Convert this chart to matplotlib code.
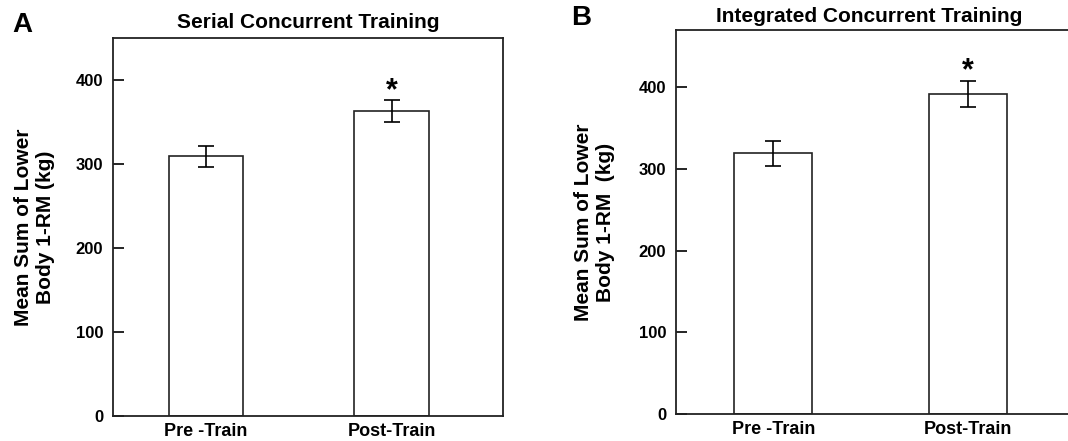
import matplotlib
matplotlib.use("Agg")
import matplotlib.pyplot as plt

plt.rcParams['font.family'] = ['Liberation Sans', 'DejaVu Sans']
plt.rcParams['font.weight'] = 'bold'

# data
groups = ['Pre -Train', 'Post-Train']
serial_mean = [309, 363]
serial_err = [12, 13]
integrated_mean = [319, 392]
integrated_err = [15, 16]
sig = [False, True]

fig = plt.figure(figsize=(10.68, 4.41), dpi=100)

# axes placed in pixel terms (figure is 1068 x 441)
ax_a = fig.add_axes([113 / 1068, 25 / 441, 390 / 1068, 378 / 441])
ax_b = fig.add_axes([676 / 1068, 27 / 441, 409 / 1068, 384 / 441])


def draw_panel(ax, means, errs, ymax, title, title_x, title_pad, ylabel):
    x = list(range(len(groups)))
    ax.bar(x, means, width=0.4, color='white', edgecolor='#222222', linewidth=1.2)
    ax.errorbar(x, means, yerr=errs, fmt='none', ecolor='black',
                elinewidth=1.2, capsize=6, capthick=1.2)
    for i in x:
        if sig[i]:
            ax.annotate('*', xy=(i, means[i] + errs[i]), xytext=(0, 1),
                        textcoords='offset points', ha='center', va='baseline',
                        fontsize=22, fontweight='bold')
    ax.set_xlim(-0.5, 1.6)
    ax.set_ylim(0, ymax)
    ax.set_yticks([0, 100, 200, 300, 400])
    ax.set_xticks(x)
    ax.set_xticklabels(groups, fontsize=13, fontweight='bold')
    ax.tick_params(axis='y', direction='in', length=8, width=1.2, labelsize=12, pad=7)
    ax.tick_params(axis='x', length=0, pad=5)
    for lbl in ax.get_yticklabels():
        lbl.set_fontweight('bold')
    for sp in ax.spines.values():
        sp.set_linewidth(1.3)
        sp.set_color('#222222')
    ax.set_title(title, fontsize=15, fontweight='bold', x=title_x, pad=title_pad)
    ax.set_ylabel(ylabel, fontsize=15, fontweight='bold', linespacing=1.2)
    ax.yaxis.set_label_coords(-0.148, 0.5)


draw_panel(ax_a, serial_mean, serial_err, 450, 'Serial Concurrent Training',
           0.5, 7, 'Mean Sum of Lower\nBody 1-RM (kg)')
draw_panel(ax_b, integrated_mean, integrated_err, 470, 'Integrated Concurrent Training',
           0.473, 5.5, 'Mean Sum of Lower\nBody 1-RM  (kg)')

fig.text(12 / 1068, 1 - 32 / 441, 'A', fontsize=20, fontweight='bold', va='baseline')
fig.text(571 / 1068, 1 - 25 / 441, 'B', fontsize=20, fontweight='bold', va='baseline')

fig.savefig('out.png', dpi=100)
